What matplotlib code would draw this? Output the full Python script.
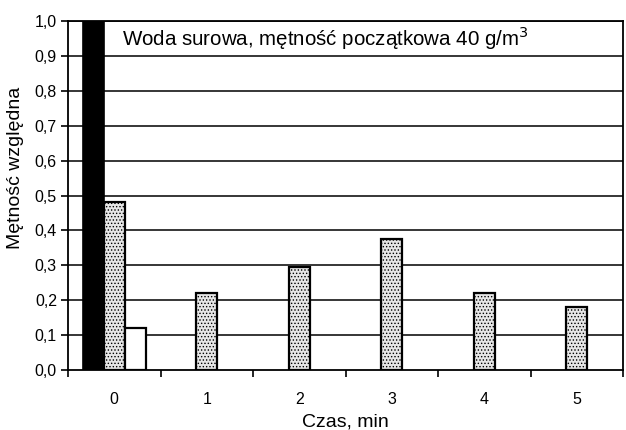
import matplotlib
matplotlib.use('Agg')
import matplotlib.pyplot as plt
import numpy as np

plt.rcParams['font.family'] = ['Liberation Sans', 'DejaVu Sans']
plt.rcParams['hatch.linewidth'] = 0.6

czas = ['0', '1', '2', '3', '4', '5']
# tylko dla czasu 0 są słupki czarny i biały
seria_czarna = [1.0, np.nan, np.nan, np.nan, np.nan, np.nan]
seria_kropki = [0.48, 0.22, 0.295, 0.375, 0.22, 0.18]
seria_biala = [0.12, np.nan, np.nan, np.nan, np.nan, np.nan]
y_ticks = [0.0, 0.1, 0.2, 0.3, 0.4, 0.5, 0.6, 0.7, 0.8, 0.9, 1.0]

fig = plt.figure(figsize=(6.26, 4.3), dpi=100)
ax = fig.add_axes([68 / 626, 1 - 370 / 430, 555 / 626, 349 / 430])

x = np.arange(len(czas))
w = 0.227

# linie siatki pod słupkami
for v in y_ticks[1:]:
    ax.axhline(v, color='black', lw=1.1, zorder=0)

ax.bar(x - w, seria_czarna, w, color='black', edgecolor='black', lw=1.2, zorder=2)
ax.bar(x, seria_kropki, w, color='#e6e6e6', edgecolor='black', lw=1.6,
       hatch='.....', zorder=2)
ax.bar(x + w, seria_biala, w, color='white', edgecolor='black', lw=1.6, zorder=2)

ax.set_xlim(-0.5, len(czas) - 0.5)
ax.set_ylim(0, 1.0)
ax.set_yticks(y_ticks)
ax.set_yticklabels([('%.1f' % v).replace('.', ',') for v in y_ticks], fontsize=11.5)

ax.set_xticks(x)
ax.set_xticklabels(czas, fontsize=11.5)
ax.set_xticks(np.arange(len(czas) + 1) - 0.5, minor=True)
ax.tick_params(axis='x', which='major', length=0, pad=16)
ax.tick_params(axis='x', which='minor', length=5, width=1.2, direction='out')
ax.tick_params(axis='y', length=5, width=1.2, direction='out', pad=3)

for s in ax.spines.values():
    s.set_linewidth(1.3)

ax.set_xlabel('Czas, min', fontsize=14)
ax.set_ylabel('Mętność względna', fontsize=14)
ax.yaxis.set_label_coords(-0.079, 0.58)
ax.xaxis.set_label_coords(0.5, -0.125)

ax.text(0.097, 0.99, 'Woda surowa, mętność początkowa 40 g/m$^3$',
        transform=ax.transAxes, fontsize=14.8, ha='left', va='top')

fig.savefig('out.png', dpi=100)
